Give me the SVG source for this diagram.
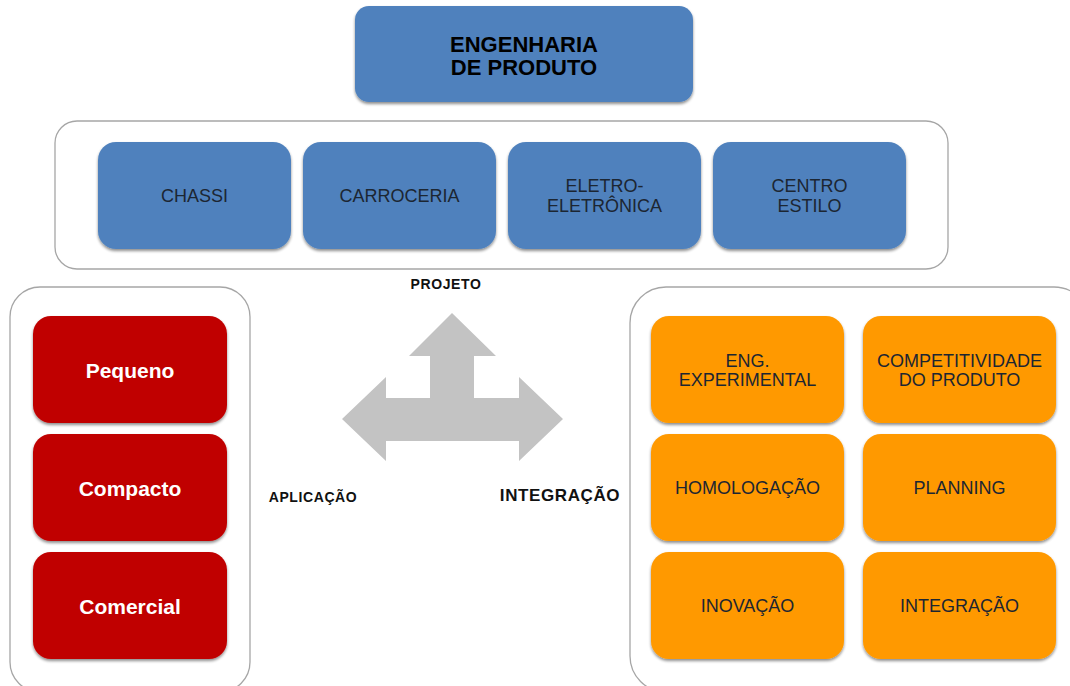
<svg xmlns="http://www.w3.org/2000/svg" width="1070" height="686" viewBox="0 0 1070 686">
  <defs>
    <filter id="shadow" x="-10%" y="-10%" width="120%" height="125%">
      <feGaussianBlur in="SourceAlpha" stdDeviation="1.5"/>
      <feOffset dx="0" dy="2" result="b"/>
      <feComponentTransfer><feFuncA type="linear" slope="0.45"/></feComponentTransfer>
      <feMerge><feMergeNode/><feMergeNode in="SourceGraphic"/></feMerge>
    </filter>
  </defs>
  <style>
    .frame { fill: #ffffff; stroke: #a6a6a6; stroke-width: 1.3; }
    .blue { fill: #4f81bd; filter: url(#shadow); }
    .red { fill: #c00000; filter: url(#shadow); }
    .orange { fill: #ff9900; filter: url(#shadow); }
    .t { font-family: "Liberation Sans", Arial, sans-serif; text-anchor: middle; }
    .dark { fill: #1c2632; font-size: 18px; }
    .title { fill: #000000; font-size: 22px; font-weight: bold; }
    .white { fill: #ffffff; font-size: 21px; font-weight: bold; }
    .lbl { fill: #111111; font-weight: bold; letter-spacing: 0.6px; }
  </style>

  <rect width="1070" height="686" fill="#ffffff"/>

  <!-- header -->
  <g id="engenharia">
    <rect class="blue" x="355" y="6" width="338" height="96" rx="14"/>
    <text class="t title" x="524" y="52">ENGENHARIA</text>
    <text class="t title" x="524" y="75">DE PRODUTO</text>
  </g>

  <!-- project areas -->
  <g id="projeto-frame"><rect class="frame" x="55" y="121" width="893" height="148" rx="22"/></g>
  <g id="chassi">
    <rect class="blue" x="98" y="142" width="193" height="107" rx="18"/>
    <text class="t dark" x="194.5" y="202">CHASSI</text>
  </g>
  <g id="carroceria">
    <rect class="blue" x="303" y="142" width="193" height="107" rx="18"/>
    <text class="t dark" x="399.5" y="202">CARROCERIA</text>
  </g>
  <g id="eletro">
    <rect class="blue" x="508" y="142" width="193" height="107" rx="18"/>
    <text class="t dark" x="604.5" y="192">ELETRO-</text>
    <text class="t dark" x="604.5" y="212">ELETRÔNICA</text>
  </g>
  <g id="estilo">
    <rect class="blue" x="713" y="142" width="193" height="107" rx="18"/>
    <text class="t dark" x="809.5" y="192">CENTRO</text>
    <text class="t dark" x="809.5" y="212">ESTILO</text>
  </g>

  <!-- application frame -->
  <g id="aplicacao-frame"><rect class="frame" x="10" y="287" width="240" height="405" rx="30"/></g>
  <g id="pequeno">
    <rect class="red" x="33" y="316" width="194" height="107" rx="18"/>
    <text class="t white" x="130" y="378">Pequeno</text>
  </g>
  <g id="compacto">
    <rect class="red" x="33" y="434" width="194" height="107" rx="18"/>
    <text class="t white" x="130" y="496">Compacto</text>
  </g>
  <g id="comercial">
    <rect class="red" x="33" y="552" width="194" height="107" rx="18"/>
    <text class="t white" x="130" y="614">Comercial</text>
  </g>

  <!-- integration frame -->
  <g id="integracao-frame"><rect class="frame" x="630" y="287" width="460" height="405" rx="36"/></g>
  <g id="eng-experimental">
    <rect class="orange" x="651" y="316" width="193" height="107" rx="18"/>
    <text class="t dark" x="747.5" y="367">ENG.</text>
    <text class="t dark" x="747.5" y="386">EXPERIMENTAL</text>
  </g>
  <g id="competitividade">
    <rect class="orange" x="863" y="316" width="193" height="107" rx="18"/>
    <text class="t dark" x="959.5" y="367">COMPETITIVIDADE</text>
    <text class="t dark" x="959.5" y="386">DO PRODUTO</text>
  </g>
  <g id="homologacao">
    <rect class="orange" x="651" y="434" width="193" height="107" rx="18"/>
    <text class="t dark" x="747.5" y="494">HOMOLOGAÇÃO</text>
  </g>
  <g id="planning">
    <rect class="orange" x="863" y="434" width="193" height="107" rx="18"/>
    <text class="t dark" x="959.5" y="494">PLANNING</text>
  </g>
  <g id="inovacao">
    <rect class="orange" x="651" y="552" width="193" height="107" rx="18"/>
    <text class="t dark" x="747.5" y="612">INOVAÇÃO</text>
  </g>
  <g id="integracao">
    <rect class="orange" x="863" y="552" width="193" height="107" rx="18"/>
    <text class="t dark" x="959.5" y="612">INTEGRAÇÃO</text>
  </g>

  <!-- three-way arrow -->
  <g id="connectors">
    <polygon fill="#c3c3c3" points="452,313 496,356 474,356 474,398 519,398 519,377 563,419 519,461 519,441 386,441 386,461 342,419 386,377 386,398 430,398 430,356 409,356"/>
    <text class="t lbl" x="446" y="289" font-size="14">PROJETO</text>
    <text class="t lbl" x="313" y="502" font-size="14">APLICAÇÃO</text>
    <text class="t lbl" x="560" y="501" font-size="17">INTEGRAÇÃO</text>
  </g>
</svg>
